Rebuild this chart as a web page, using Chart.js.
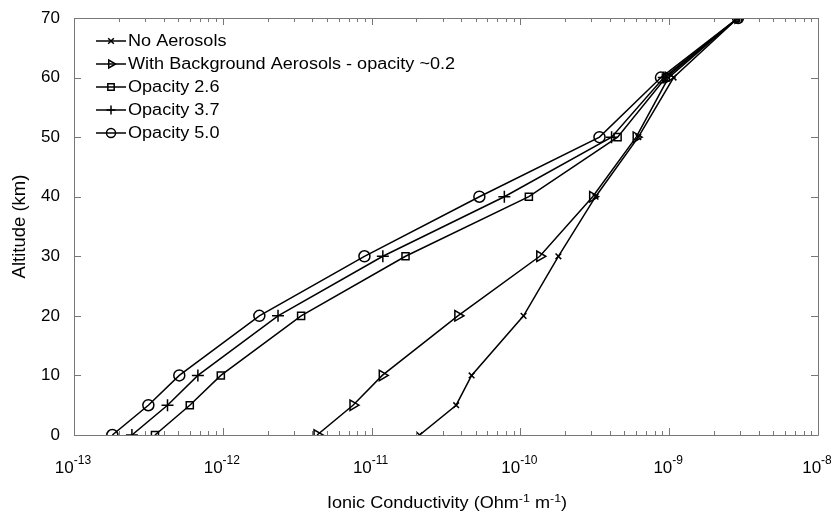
<!DOCTYPE html>
<html>
<head>
<meta charset="utf-8">
<script src="https://cdn.jsdelivr.net/npm/chart.js@4/dist/chart.umd.min.js"></script>
<style>
html,body{margin:0;padding:0;background:#fff;}
#wrap{width:831px;height:512px;}
</style>
</head>
<body>
<div id="wrap"><canvas id="c" width="831" height="512"></canvas></div>
<script>
const altitudes = [0, 5, 10, 20, 30, 40, 50, 60, 70];
const noAerosols = [2.1e-11, 3.7e-11, 4.7e-11, 1.05e-10, 1.8e-10, 3.2e-10, 6.2e-10, 1.07e-9, 2.9e-9];
const background = [4.3e-12, 7.5e-12, 1.18e-11, 3.8e-11, 1.35e-10, 3.06e-10, 6.0e-10, 9.9e-10, 2.9e-9];
const opacity26 = [3.5e-13, 6.0e-13, 9.7e-13, 3.36e-12, 1.69e-11, 1.14e-10, 4.5e-10, 9.5e-10, 2.9e-9];
const opacity37 = [2.45e-13, 4.25e-13, 6.8e-13, 2.35e-12, 1.19e-11, 7.8e-11, 4.1e-10, 9.2e-10, 2.9e-9];
const opacity50 = [1.81e-13, 3.16e-13, 5.1e-13, 1.76e-12, 8.95e-12, 5.3e-11, 3.4e-10, 8.8e-10, 2.9e-9];
const seriesNames = ['No Aerosols', 'With Background Aerosols - opacity ~0.2', 'Opacity 2.6', 'Opacity 3.7', 'Opacity 5.0'];
const yTicks = [0, 10, 20, 30, 40, 50, 60, 70];
const xTickExponents = [-13, -12, -11, -10, -9, -8];
const xTitleParts = ['Ionic Conductivity (Ohm', '-1', ' m', '-1', ')'];

const FONT = "'Liberation Sans', Arial, sans-serif";
const STRETCH = 1.13;
const styles = [
  {pointStyle: 'crossRot', rotation: 0, radius: 4},
  {pointStyle: 'triangle', rotation: 90, radius: 6},
  {pointStyle: 'rect', rotation: 0, radius: 5},
  {pointStyle: 'cross', rotation: 0, radius: 6},
  {pointStyle: 'circle', rotation: 0, radius: 5.5}
];
const values = [noAerosols, background, opacity26, opacity37, opacity50];

const datasets = values.map((arr, i) => ({
  label: seriesNames[i],
  data: arr.map((v, k) => ({x: v, y: altitudes[k]})),
  borderColor: '#000',
  backgroundColor: 'rgba(0,0,0,0)',
  borderWidth: 1.5,
  pointStyle: styles[i].pointStyle,
  pointRotation: styles[i].rotation,
  pointRadius: styles[i].radius,
  pointBorderWidth: 1.5,
  pointBorderColor: '#000',
  pointBackgroundColor: 'rgba(0,0,0,0)',
  tension: 0,
  fill: false
}));

// draw text with optional horizontal stretch; parts alternate normal / superscript
function drawRich(ctx, parts, cx, baseline, size, supSize, supRise, stretch) {
  ctx.save();
  ctx.textBaseline = 'alphabetic';
  ctx.textAlign = 'left';
  let total = 0;
  const widths = parts.map((p, i) => {
    ctx.font = (i % 2 ? supSize : size) + 'px ' + FONT;
    const w = ctx.measureText(p).width;
    total += w;
    return w;
  });
  ctx.translate(cx, baseline);
  ctx.scale(stretch, 1);
  let x = -total / 2;
  parts.forEach((p, i) => {
    ctx.font = (i % 2 ? supSize : size) + 'px ' + FONT;
    ctx.fillText(p, x, i % 2 ? -supRise : 0);
    x += widths[i];
  });
  ctx.restore();
}

const framePlugin = {
  id: 'frame',
  afterDatasetsDraw(chart) {
    const ctx = chart.ctx, a = chart.chartArea;
    const xs = chart.scales.x, ys = chart.scales.y;
    ctx.save();
    ctx.strokeStyle = '#777';
    ctx.lineWidth = 1;
    ctx.beginPath();
    ctx.rect(Math.round(a.left) + 0.5, Math.round(a.top) + 0.5, Math.round(a.right - a.left), Math.round(a.bottom - a.top));
    ctx.stroke();
    ctx.beginPath();
    const last = xTickExponents[xTickExponents.length - 1];
    for (let e = xTickExponents[0]; e <= last; e++) {
      for (let m = 1; m <= 9; m++) {
        if (e === last && m > 1) break;
        const v = m * Math.pow(10, e);
        const px = Math.round(xs.getPixelForValue(v)) + 0.5;
        const len = m === 1 ? 7 : 4;
        ctx.moveTo(px, a.bottom); ctx.lineTo(px, a.bottom - len);
        ctx.moveTo(px, a.top); ctx.lineTo(px, a.top + len);
      }
    }
    yTicks.forEach(t => {
      const py = Math.round(ys.getPixelForValue(t)) + 0.5;
      ctx.moveTo(a.left, py); ctx.lineTo(a.left + 7, py);
      ctx.moveTo(a.right, py); ctx.lineTo(a.right - 7, py);
    });
    ctx.stroke();
    ctx.restore();
  },
  afterDraw(chart) {
    const ctx = chart.ctx;
    const xs = chart.scales.x;
    ctx.fillStyle = '#000';
    // x tick labels 10^n
    xTickExponents.forEach(e => {
      const px = xs.getPixelForValue(Math.pow(10, e));
      drawRich(ctx, ['10', String(e)], px - 1, 473, 17, 12, 9, 1.0);
    });
    // x title
    drawRich(ctx, xTitleParts, (chart.chartArea.left + chart.chartArea.right) / 2 + 1, 508, 16, 11, 6, STRETCH);

    // legend inside plot area: line + marker + text
    const x0 = 96, x1 = 126, tx = 128, y0 = 41, dy = 23;
    ctx.save();
    seriesNames.forEach((name, i) => {
      const y = y0 + i * dy;
      ctx.strokeStyle = '#000';
      ctx.lineWidth = 1.5;
      ctx.beginPath(); ctx.moveTo(x0, y); ctx.lineTo(x1, y); ctx.stroke();
      if (Chart.helpers && Chart.helpers.drawPoint) {
        ctx.fillStyle = 'rgba(0,0,0,0)';
        Chart.helpers.drawPoint(ctx, {
          pointStyle: styles[i].pointStyle,
          rotation: styles[i].rotation,
          radius: Math.min(styles[i].radius, 4.5),
          borderWidth: 1.3
        }, (x0 + x1) / 2, y);
      }
      ctx.save();
      ctx.fillStyle = '#000';
      ctx.font = '16px ' + FONT;
      ctx.textBaseline = 'middle';
      ctx.translate(tx, y + 1);
      ctx.scale(STRETCH, 1);
      ctx.fillText(name, 0, 0);
      ctx.restore();
    });
    ctx.restore();
  }
};

new Chart(document.getElementById('c'), {
  type: 'line',
  data: {datasets},
  plugins: [framePlugin],
  options: {
    responsive: false,
    animation: false,
    devicePixelRatio: 1,
    layout: {padding: {top: 18, right: 13, left: 0, bottom: 0}},
    plugins: {legend: {display: false}, tooltip: {enabled: false}},
    elements: {line: {borderJoinStyle: 'miter'}},
    scales: {
      x: {
        type: 'logarithmic',
        min: 1e-13,
        max: 1e-8,
        afterFit: s => { s.height = 77; s.paddingLeft = 0; s.paddingRight = 0; },
        afterBuildTicks: s => {
          s.ticks = xTickExponents.map(e => ({value: Math.pow(10, e), major: true}));
        },
        grid: {display: false, drawTicks: false},
        border: {display: false},
        ticks: {display: false},
        title: {display: false}
      },
      y: {
        type: 'linear',
        min: 0,
        max: 70,
        afterFit: s => { s.width = 74; s.paddingTop = 0; s.paddingBottom = 0; },
        afterBuildTicks: s => { s.ticks = yTicks.map(v => ({value: v})); },
        grid: {display: false, drawTicks: false},
        border: {display: false},
        ticks: {
          padding: 14,
          color: '#000',
          font: {family: FONT, size: 17}
        },
        title: {
          display: true,
          text: 'Altitude (km)',
          color: '#000',
          font: {family: FONT, size: 18.5},
          padding: {top: 9, bottom: 0}
        }
      }
    }
  }
});
</script>
</body>
</html>
